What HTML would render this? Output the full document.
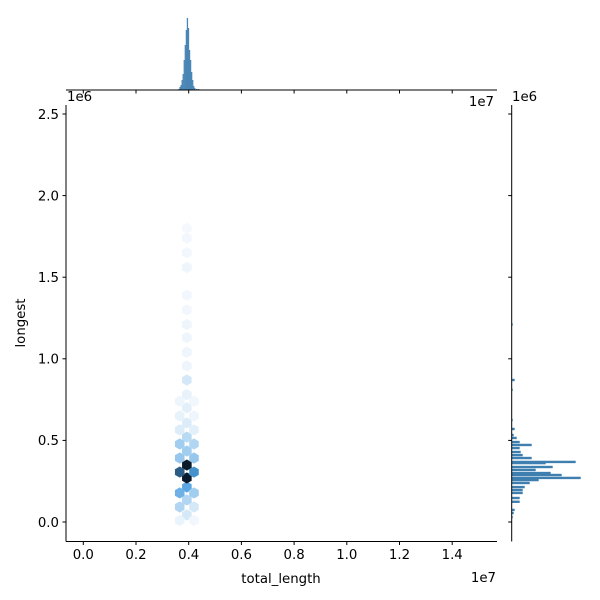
<!DOCTYPE html>
<html><head><meta charset="utf-8"><style>
body{margin:0;background:#fff}
svg{display:block;font-family:"DejaVu Sans","Liberation Sans",sans-serif}
</style></head><body>
<svg id="chart" width="600" height="600" viewBox="0 0 600 600" xmlns="http://www.w3.org/2000/svg"></svg>
<script>
// hexbin cells: x (1e7), y (1e6), count
const hexX = [0.393,0.393,0.393,0.393,0.393,0.393,0.393,0.393,0.393,0.393,0.393,0.393,0.393,0.393,0.393,0.393,0.393,0.393,0.393,0.393,0.393,
  0.366,0.420,0.366,0.420,0.366,0.420,0.366,0.420,0.366,0.420,0.366,0.420,0.366,0.420,0.366,0.420,0.366,0.420];
const hexY = [0.043,0.135,0.214,0.270,0.349,0.435,0.520,0.607,0.700,0.780,0.870,0.956,1.04,1.13,1.21,1.30,1.39,1.56,1.65,1.74,1.80,
  0.306,0.306,0.392,0.392,0.178,0.178,0.092,0.092,0.478,0.478,0.564,0.564,0.650,0.650,0.74,0.74,0.010,0.010];
const hexCount = [10,20,45,100,100,25,18,8,6,5,10,3,3,3,3,2,2,3,2,2,1,
  75,55,28,28,40,25,20,10,25,20,8,6,5,3,3,2,4,2];
// top marginal histogram (total_length, 1e7)
const topBinX = [0.363,0.367,0.371,0.375,0.379,0.383,0.387,0.391,0.395,0.399,0.403,0.407,0.411,0.415,0.419,0.423,0.430,0.437];
const topCount = [1,3,5,10,16,30,45,60,72,62,40,30,18,10,4,2,1,1];
// right marginal histogram (longest, 1e6)
const rightBinY = [0.03,0.055,0.074,0.124,0.147,0.178,0.196,0.214,0.239,0.257,0.270,0.288,0.300,0.319,0.337,0.361,0.368,0.392,0.410,0.429,0.453,0.472,0.490,0.515,0.533,0.570,0.625,0.810,0.870,1.21];
const rightCount = [1,2,3,8,8,11,11,13,18,27,69,50,39,24,41,34,64,20,11,9,8,20,8,5,2,3,1,1,3,1];
const xTicks = [0,0.2,0.4,0.6,0.8,1.0,1.2,1.4];
const yTicks = [0,0.5,1.0,1.5,2.0,2.5];

const svg = document.getElementById('chart');
const NS = 'http://www.w3.org/2000/svg';
function mk(tag, attrs, parent){const e=document.createElementNS(NS,tag);for(const k in attrs)e.setAttribute(k,attrs[k]);(parent||svg).appendChild(e);return e;}
const X = v => 83.3 + v/0.2*52.7;
const Y = v => 522 - v/0.5*81.6;
const TX = c => 90 - c*1.0;
const RX = c => 511.7 + c*1.0;

function lerp(a,b,t){return Math.round(a+(b-a)*t);}
function color(c){
  const t=Math.min(1,c/100);
  const s=[[248,251,254],[74,158,224],[11,26,42]];
  let a,b,u; if(t<0.5){a=s[0];b=s[1];u=t/0.5;}else{a=s[1];b=s[2];u=(t-0.5)/0.5;}
  return `rgb(${lerp(a[0],b[0],u)},${lerp(a[1],b[1],u)},${lerp(a[2],b[2],u)})`;
}

const gh = mk('g',{});


for(let i=0;i<hexX.length;i++){
  const cx=X(hexX[i]), cy=Y(hexY[i]); const r=5.6, w=4.8;
  const pts=[[cx,cy-r],[cx+w,cy-r/2],[cx+w,cy+r/2],[cx,cy+r],[cx-w,cy+r/2],[cx-w,cy-r/2]].map(p=>p.join(',')).join(' ');
  const p=mk('polygon',{points:pts,fill:color(hexCount[i])},gh);
  
  
}

const gt = mk('g',{});


for(let i=0;i<topBinX.length;i++){
  const x=X(topBinX[i]); const y=TX(topCount[i]);
  const b=mk('rect',{x:x-0.6,y:y,width:1.3,height:90-y,fill:'#4a86b5'},gt);
  
  
}
const gr = mk('g',{});


for(let i=0;i<rightBinY.length;i++){
  const y=Y(rightBinY[i]);
  const b=mk('rect',{x:511.7,y:y-1.2,width:RX(rightCount[i])-511.7,height:2.4,fill:'#3f7fb0'},gr);
  
  
}

const ax=mk('g',{stroke:'#000','stroke-width':1,fill:'none'});


mk('line',{x1:66,y1:105,x2:66,y2:541.5},ax);
mk('line',{x1:66,y1:541.5,x2:497,y2:541.5},ax);
mk('line',{x1:66,y1:90,x2:497,y2:90},ax);
mk('line',{x1:511.7,y1:105,x2:511.7,y2:541.5},ax);

for(const t of xTicks){
  const x=X(t);
  mk('line',{x1:x,y1:541.5,x2:x,y2:545,stroke:'#000'});
  mk('line',{x1:x,y1:90,x2:x,y2:93.5,stroke:'#000'});
  const tx=mk('text',{x:x,y:559,'font-size':13.3,'text-anchor':'middle',fill:'#000'});
  tx.textContent=t.toFixed(1);
  
  
}
for(const t of yTicks){
  const y=Y(t);
  mk('line',{x1:62.5,y1:y,x2:66,y2:y,stroke:'#000'});
  mk('line',{x1:508.2,y1:y,x2:511.7,y2:y,stroke:'#000'});
  const tx=mk('text',{x:59,y:y+4.8,'font-size':13.3,'text-anchor':'end',fill:'#000'});
  tx.textContent=t.toFixed(1);
  
  
}
</script>
<svg style="position:absolute;left:0;top:0" width="600" height="600" xmlns="http://www.w3.org/2000/svg" font-family="DejaVu Sans, Liberation Sans, sans-serif">
<text x="281" y="583" font-size="13.3" text-anchor="middle">total_length</text>
<text transform="translate(25,323) rotate(-90)" font-size="13.3" text-anchor="middle">longest</text>
<text x="496" y="582" font-size="13.3" text-anchor="end">1e7</text>
<text x="67" y="101" font-size="13.3">1e6</text>
<text x="494" y="106" font-size="13.3" text-anchor="end">1e7</text>
<text x="512" y="101" font-size="13.3">1e6</text>
</svg>
</body></html>
